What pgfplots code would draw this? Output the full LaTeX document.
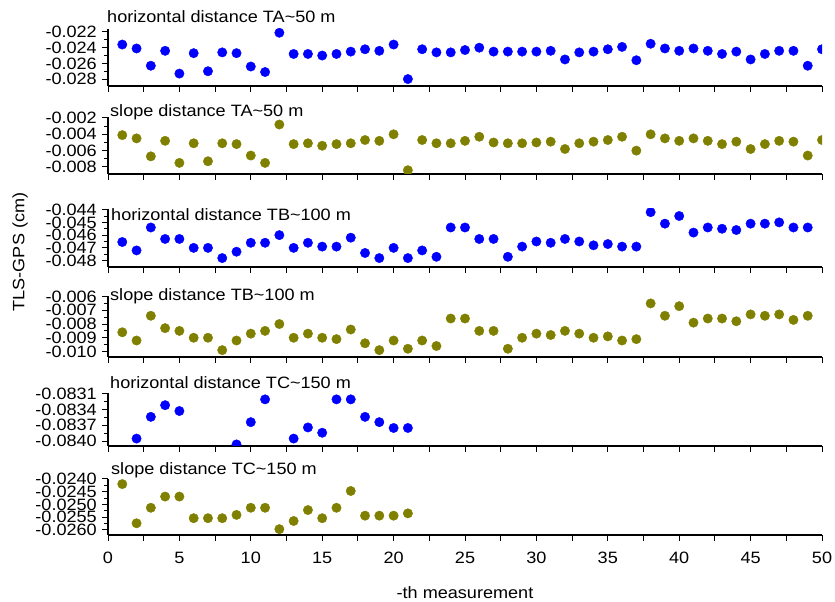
\documentclass[border=0pt]{standalone}
\usepackage{fontspec}
\setmainfont{Liberation Sans}[FakeStretch=1.1]
\usepackage{pgfplots}
\pgfplotsset{compat=1.18}
\definecolor{myblue}{RGB}{0,0,255}
\definecolor{myolive}{RGB}{128,128,0}
\newcommand{\lbl}{\fontsize{16.5}{18}\selectfont}
\pgfplotsset{
  panel/.style={
    scale only axis, width=714bp, xmin=0, xmax=50,
    anchor=south west,
    axis x line*=bottom, axis y line*=left,
    axis line style={-, line width=1.1bp, black},
    tick align=outside, tick style={black, line width=1bp},
    major tick length=6bp, minor tick length=4bp,
    xtick={0,2.5,...,50}, xticklabels={},
    minor y tick num=1,
    scaled y ticks=false,
    ticklabel style={font=\lbl},
    yticklabel style={inner sep=1bp, xshift=-4bp},
    clip marker paths=true,
  },
  bdots/.style={only marks, mark=*, mark size=4.7bp, color=myblue, mark options={draw=myblue, fill=myblue}},
  odots/.style={only marks, mark=*, mark size=4.7bp, color=myolive, mark options={draw=myolive, fill=myolive}},
}
\begin{document}
\begin{tikzpicture}
\useasboundingbox (0,0) rectangle (835bp,602bp);
% Panel 1
\begin{axis}[panel, at={(108bp,516bp)}, height=57bp, ymin=-0.02888, ymax=-0.02162,
  ytick={-0.028,-0.026,-0.024,-0.022}, yticklabels={-0.028,-0.026,-0.024,-0.022}]
\addplot[bdots] coordinates {
(1,-0.0236)(2,-0.0241)(3,-0.0263)(4,-0.0244)(5,-0.0273)(6,-0.0247)(7,-0.0270)(8,-0.0246)(9,-0.0247)(10,-0.0264)
(11,-0.0271)(12,-0.0221)(13,-0.0248)(14,-0.0248)(15,-0.0250)(16,-0.0248)(17,-0.0245)(18,-0.0242)(19,-0.0244)(20,-0.0236)
(21,-0.0280)(22,-0.0242)(23,-0.0246)(24,-0.0246)(25,-0.0243)(26,-0.0240)(27,-0.0245)(28,-0.0245)(29,-0.0245)(30,-0.0245)
(31,-0.0244)(32,-0.0255)(33,-0.0246)(34,-0.0245)(35,-0.0242)(36,-0.0239)(37,-0.0256)(38,-0.0235)(39,-0.0241)(40,-0.0244)
(41,-0.0241)(42,-0.0244)(43,-0.0248)(44,-0.0245)(45,-0.0255)(46,-0.0248)(47,-0.0244)(48,-0.0244)(49,-0.0263)(50,-0.0242)};
\end{axis}
% Panel 2
\begin{axis}[panel, at={(108bp,428bp)}, height=57bp, ymin=-0.00886, ymax=-0.00188,
  ytick={-0.008,-0.006,-0.004,-0.002}, yticklabels={-0.008,-0.006,-0.004,-0.002}]
\addplot[odots] coordinates {
(1,-0.0041)(2,-0.0045)(3,-0.0067)(4,-0.0048)(5,-0.0075)(6,-0.0051)(7,-0.0073)(8,-0.0051)(9,-0.0052)(10,-0.0066)
(11,-0.0075)(12,-0.0028)(13,-0.0052)(14,-0.0051)(15,-0.0054)(16,-0.0052)(17,-0.0051)(18,-0.0047)(19,-0.0048)(20,-0.0040)
(21,-0.0084)(22,-0.0047)(23,-0.0051)(24,-0.0051)(25,-0.0048)(26,-0.0043)(27,-0.0050)(28,-0.0051)(29,-0.0051)(30,-0.0050)
(31,-0.0049)(32,-0.0058)(33,-0.0051)(34,-0.0049)(35,-0.0047)(36,-0.0043)(37,-0.0060)(38,-0.0040)(39,-0.0045)(40,-0.0048)
(41,-0.0045)(42,-0.0048)(43,-0.0052)(44,-0.0049)(45,-0.0058)(46,-0.0052)(47,-0.0048)(48,-0.0049)(49,-0.0066)(50,-0.0047)};
\end{axis}
% Panel 3
\begin{axis}[panel, at={(108bp,335bp)}, height=58bp, ymin=-0.0485, ymax=-0.04395,
  ytick={-0.048,-0.047,-0.046,-0.045,-0.044}, yticklabels={-0.048,-0.047,-0.046,-0.045,-0.044}]
\addplot[bdots] coordinates {
(1,-0.04654)(2,-0.0472)(3,-0.0454)(4,-0.0463)(5,-0.0463)(6,-0.0470)(7,-0.0470)(8,-0.0478)(9,-0.0473)(10,-0.0466)
(11,-0.0466)(12,-0.0460)(13,-0.0470)(14,-0.0466)(15,-0.0469)(16,-0.0469)(17,-0.0462)(18,-0.0474)(19,-0.0478)(20,-0.0470)
(21,-0.0478)(22,-0.0472)(23,-0.0477)(24,-0.0454)(25,-0.0454)(26,-0.0463)(27,-0.0463)(28,-0.0477)(29,-0.0469)(30,-0.0465)
(31,-0.0466)(32,-0.0463)(33,-0.0465)(34,-0.0468)(35,-0.0467)(36,-0.0469)(37,-0.0469)(38,-0.0442)(39,-0.0451)(40,-0.0445)
(41,-0.0458)(42,-0.0454)(43,-0.0455)(44,-0.0456)(45,-0.0451)(46,-0.0451)(47,-0.0450)(48,-0.0454)(49,-0.0454)};
\end{axis}
% Panel 4
\begin{axis}[panel, at={(108bp,245bp)}, height=61bp, ymin=-0.0104, ymax=-0.00596,
  ytick={-0.010,-0.009,-0.008,-0.007,-0.006}, yticklabels={-0.010,-0.009,-0.008,-0.007,-0.006}]
\addplot[odots] coordinates {
(1,-0.0086)(2,-0.0092)(3,-0.0074)(4,-0.0083)(5,-0.0085)(6,-0.0090)(7,-0.0090)(8,-0.0099)(9,-0.0092)(10,-0.0087)
(11,-0.0085)(12,-0.0080)(13,-0.0090)(14,-0.0087)(15,-0.0090)(16,-0.0091)(17,-0.0084)(18,-0.0094)(19,-0.0099)(20,-0.0092)
(21,-0.0098)(22,-0.0092)(23,-0.0096)(24,-0.0076)(25,-0.0076)(26,-0.0085)(27,-0.0085)(28,-0.0098)(29,-0.0090)(30,-0.0087)
(31,-0.0088)(32,-0.0085)(33,-0.0087)(34,-0.0090)(35,-0.0089)(36,-0.0092)(37,-0.0091)(38,-0.0065)(39,-0.0074)(40,-0.0067)
(41,-0.0079)(42,-0.0076)(43,-0.0076)(44,-0.0078)(45,-0.0073)(46,-0.0074)(47,-0.0073)(48,-0.0077)(49,-0.0074)};
\end{axis}
% Panel 5
\begin{axis}[panel, at={(108bp,156bp)}, height=53bp, ymin=-0.08409, ymax=-0.08309,
  ytick={-0.0840,-0.0837,-0.0834,-0.0831}, yticklabels={-0.0840,-0.0837,-0.0834,-0.0831}]
\addplot[bdots] coordinates {
(2,-0.08395)(3,-0.08354)(4,-0.08332)(5,-0.08343)(9,-0.08406)(10,-0.08364)(11,-0.08321)
(13,-0.08395)(14,-0.08374)(15,-0.08384)(16,-0.08321)(17,-0.08321)(18,-0.08354)(19,-0.08364)(20,-0.08375)(21,-0.08375)};
\end{axis}
% Panel 6
\begin{axis}[panel, at={(108bp,67bp)}, height=56bp, ymin=-0.0262, ymax=-0.0240,
  ytick={-0.0260,-0.0255,-0.0250,-0.0245,-0.0240}, yticklabels={-0.0260,-0.0255,-0.0250,-0.0245,-0.0240},
  xticklabels={0,{},5,{},10,{},15,{},20,{},25,{},30,{},35,{},40,{},45,{},50},
  xticklabel style={yshift=-8bp}]
\addplot[odots] coordinates {
(1,-0.0242)(2,-0.02574)(3,-0.02513)(4,-0.02469)(5,-0.02469)(6,-0.02554)(7,-0.02554)(8,-0.02554)(9,-0.02541)(10,-0.02513)
(11,-0.02513)(12,-0.02597)(13,-0.02565)(14,-0.02522)(15,-0.02554)(16,-0.02513)(17,-0.02447)(18,-0.02544)(19,-0.02544)(20,-0.02544)(21,-0.02535)};
\end{axis}
% titles and labels
\node[anchor=west, inner sep=0, font=\lbl] at (107bp,585.3bp) {horizontal distance TA\textasciitilde 50 m};
\node[anchor=west, inner sep=0, font=\lbl] at (110bp,489.3bp) {slope distance TA\textasciitilde 50 m};
\node[anchor=west, inner sep=0, font=\lbl] at (111bp,387bp) {horizontal distance TB\textasciitilde 100 m};
\node[anchor=west, inner sep=0, font=\lbl] at (110bp,305.3bp) {slope distance TB\textasciitilde 100 m};
\node[anchor=west, inner sep=0, font=\lbl] at (110bp,219.3bp) {horizontal distance TC\textasciitilde 150 m};
\node[anchor=west, inner sep=0, font=\lbl] at (111bp,132bp) {slope distance TC\textasciitilde 150 m};
\node[rotate=90, font=\lbl] at (20bp,350bp) {TLS-GPS (cm)};
\node[font=\lbl] at (465bp,9bp) {-th measurement};
\end{tikzpicture}
\end{document}
